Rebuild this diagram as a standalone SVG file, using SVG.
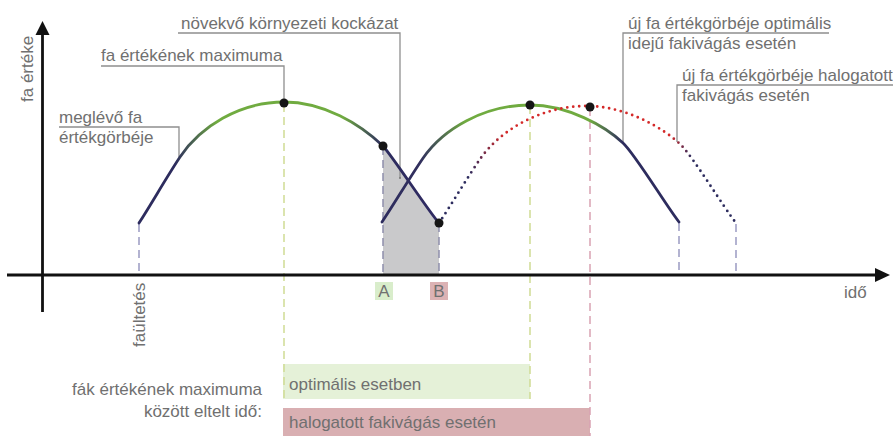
<svg xmlns="http://www.w3.org/2000/svg" width="893" height="436" viewBox="0 0 893 436">
<defs>
<style>
text{font-family:"Liberation Sans",Arial,sans-serif;font-size:17px;fill:#707070}
.lead{fill:none;stroke:#8f8f8f;stroke-width:1.3}
.dashB{stroke:#9a9ac2;stroke-width:1.5;stroke-dasharray:8 5;fill:none}
.dashG{stroke:#cfdc94;stroke-width:1.5;stroke-dasharray:8 5;fill:none}
.dashR{stroke:#d9a3b3;stroke-width:1.5;stroke-dasharray:8 5;fill:none}
.dashA{stroke:#8e8eac;stroke-width:1.5;stroke-dasharray:8 5;fill:none}
.axis{stroke:#111;stroke-width:2.8;fill:none}
.dot{fill:#151515}
.curve{fill:none;stroke-width:2.8;stroke-linecap:round}
</style>
<linearGradient id="g1" gradientUnits="userSpaceOnUse" x1="139" y1="0" x2="439" y2="0">
<stop offset="0" stop-color="#2d2c5e"/><stop offset="0.12" stop-color="#2d2c5e"/>
<stop offset="0.26" stop-color="#70ab40"/><stop offset="0.68" stop-color="#70ab40"/>
<stop offset="0.81" stop-color="#2d2c5e"/><stop offset="1" stop-color="#2f2a62"/>
</linearGradient>
<linearGradient id="g2" gradientUnits="userSpaceOnUse" x1="382" y1="0" x2="679" y2="0">
<stop offset="0" stop-color="#2d2c5e"/><stop offset="0.13" stop-color="#32305e"/>
<stop offset="0.28" stop-color="#70ab40"/><stop offset="0.70" stop-color="#70ab40"/>
<stop offset="0.81" stop-color="#2d2c5e"/><stop offset="1" stop-color="#2d2c5e"/>
</linearGradient>
<linearGradient id="g3" gradientUnits="userSpaceOnUse" x1="439" y1="0" x2="736" y2="0">
<stop offset="0" stop-color="#2d2c5e"/><stop offset="0.10" stop-color="#2d2c5e"/>
<stop offset="0.22" stop-color="#d42a2a"/><stop offset="0.78" stop-color="#d42a2a"/>
<stop offset="0.85" stop-color="#2d2c5e"/><stop offset="1" stop-color="#2d2c5e"/>
</linearGradient>
</defs>
<rect width="893" height="436" fill="#ffffff"/>

<g id="period-boxes">
<rect x="283" y="364" width="247" height="35" fill="#e5f1d8"/>
<text x="289" y="390">optimális esetben</text>
<rect x="283" y="408" width="307" height="28" fill="#d9afb2"/>
<text x="289" y="428">halogatott fakivágás esetén</text>
</g>

<g id="risk-area">
<path d="M383,275 V146 C393,157 429,212 439,223 V275 Z" fill="#c9c9cb"/>
</g>

<g id="connectors">
<line class="dashB" x1="139" y1="224" x2="139" y2="275"/>
<line class="dashG" x1="284" y1="104" x2="284" y2="399"/>
<line class="dashA" x1="383" y1="147" x2="383" y2="275"/>
<line class="dashA" x1="439" y1="224" x2="439" y2="275"/>
<line class="dashG" x1="530" y1="106" x2="530" y2="399"/>
<line class="dashR" x1="590" y1="108" x2="590" y2="436"/>
<line class="dashB" x1="679" y1="223" x2="679" y2="275"/>
<line class="dashB" x1="736" y1="224" x2="736" y2="275"/>
<path class="lead" d="M178,33 H400 V178"/>
<circle cx="400" cy="178" r="1" fill="#777"/>
<path class="lead" d="M101,66 H284 V103"/>
<path class="lead" d="M59,127 H179 V157"/>
<path class="lead" d="M829,33 H623 V143"/>
<path class="lead" d="M893,85 H677 V142"/>
</g>

<g id="axes">
<line class="axis" x1="42.5" y1="312" x2="42.5" y2="32"/>
<polygon points="42.5,21 35.5,35 49.5,35" fill="#111"/>
<line class="axis" x1="7" y1="275" x2="877" y2="275"/>
<polygon points="890,275 875,268 875,282" fill="#111"/>
</g>

<g id="curve-existing">
<path class="curve" stroke="url(#g1)" d="M139,223 C152,203 166,178 180,157 C200,127 239,102 284,102 C324,102 360,124 383,146 C393,157 429,212 439,223"/>
</g>
<g id="curve-optimal">
<path class="curve" stroke="url(#g2)" d="M382,222 C395,202.7 410,177 423,158.2 C443,129.2 483.7,105 530,105 C567.6,105 605,126 623,143 C635,154 667,207 679,222"/>
</g>
<g id="curve-delayed">
<path class="curve" stroke="url(#g3)" stroke-width="3" stroke-dasharray="0 6" d="M439,223 C452,203.7 467,178 480,159.2 C500,130.2 540.7,106 587,106 C624.6,106 662,127 680,144 C692,155 724,208 736,223"/>
</g>

<g id="points">
<circle class="dot" cx="284" cy="103" r="4.5"/>
<circle class="dot" cx="383" cy="146" r="4.5"/>
<circle class="dot" cx="439" cy="223" r="4.5"/>
<circle class="dot" cx="530" cy="105" r="4.5"/>
<circle class="dot" cx="590" cy="107" r="4.5"/>
</g>

<g id="markers-AB">
<rect x="375" y="282" width="18" height="18" fill="#d9edcb"/>
<text x="384" y="297" text-anchor="middle">A</text>
<rect x="430" y="282" width="18" height="18" fill="#dcb2b4"/>
<text x="439" y="297" text-anchor="middle">B</text>
</g>

<g id="labels">
<text transform="translate(33,102) rotate(-90)">fa értéke</text>
<text transform="translate(145,347) rotate(-90)">faültetés</text>
<text x="844" y="298">idő</text>
<text x="181" y="29">növekvő környezeti kockázat</text>
<text x="101" y="61">fa értékének maximuma</text>
<text x="59" y="123">meglévő fa</text>
<text x="59" y="143">értékgörbéje</text>
<text x="628" y="29">új fa értékgörbéje optimális</text>
<text x="628" y="49">idejű fakivágás esetén</text>
<text x="682" y="81">új fa értékgörbéje halogatott</text>
<text x="682" y="101">fakivágás esetén</text>
<text x="262" y="395" text-anchor="end">fák értékének maximuma</text>
<text x="262" y="417" text-anchor="end">között eltelt idő:</text>
</g>
</svg>
